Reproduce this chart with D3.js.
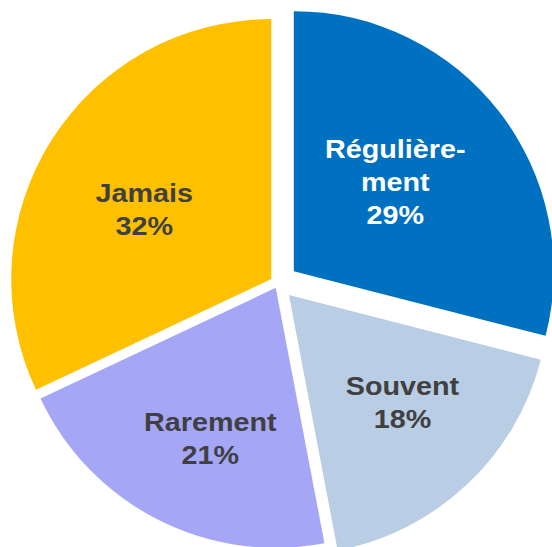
<!DOCTYPE html>
<html>
<head>
<meta charset="utf-8">
<script src="https://cdn.jsdelivr.net/npm/d3@7"></script>
<style>
  html, body { margin: 0; padding: 0; background: #ffffff; }
  svg { display: block; }
</style>
</head>
<body>
<svg id="chart" width="552" height="547"></svg>
<script>
// ---- data ----
const categories = ["Régulièrement", "Souvent", "Rarement", "Jamais"];
const labelLines = [["Régulière-", "ment"], ["Souvent"], ["Rarement"], ["Jamais"]];
const values = [29, 18, 21, 32];
const colors = ["#0070C0", "#B9CDE5", "#A6A6F7", "#FFC000"];
const textColors = ["#ffffff", "#404040", "#404040", "#404040"];

// ---- layout ----
const layout = {
  cx: 278, cy: 283.4, r: 260,
  explode: [20, 16, 5, 8],
  labelR: [135, 156, 164, 145],
  labelAngleShift: -3.5 * Math.PI / 180,
  fontSize: 25, stretchX: 1.15, lineH: 33, capH: 18
};

const svg = d3.select("#chart");
const pie = d3.pie().sort(null).value(d => d)
  .startAngle(0).endAngle(2 * Math.PI);
const arcs = pie(values);
const arc = d3.arc().innerRadius(0).outerRadius(layout.r);

const g = svg.append("g").attr("transform", `translate(${layout.cx},${layout.cy})`);

arcs.forEach((a, i) => {
  const mid = (a.startAngle + a.endAngle) / 2;
  const ox = Math.sin(mid) * layout.explode[i];
  const oy = -Math.cos(mid) * layout.explode[i];
  const sg = g.append("g").attr("transform", `translate(${ox},${oy})`);
  sg.append("path").attr("d", arc(a)).attr("fill", colors[i]);

  const la = mid + layout.labelAngleShift;
  const lx = Math.sin(la) * layout.labelR[i];
  const ly = -Math.cos(la) * layout.labelR[i];
  const lines = labelLines[i].concat([values[i] + "%"]);
  const blockH = (lines.length - 1) * layout.lineH + layout.capH;
  const firstBase = ly - blockH / 2 + layout.capH;
  const t = sg.append("text")
    .attr("transform", `translate(${lx},0) scale(${layout.stretchX},1)`)
    .attr("text-anchor", "middle")
    .attr("font-family", "'Liberation Sans', Arial, sans-serif")
    .attr("font-weight", "bold")
    .attr("font-size", layout.fontSize)
    .attr("fill", textColors[i]);
  lines.forEach((ln, k) => {
    t.append("tspan").attr("x", 0).attr("y", firstBase + k * layout.lineH).text(ln);
  });
});
</script>
</body>
</html>
